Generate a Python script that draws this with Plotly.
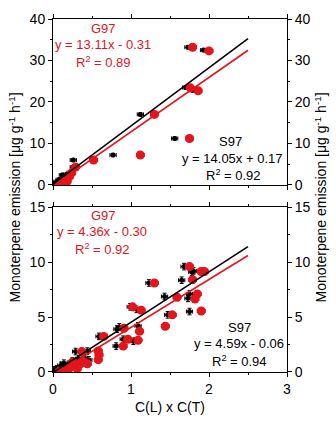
import plotly.graph_objects as go

# ---------------- data ----------------
# Top panel
top_s97_x = [1.73, 1.93, 1.70, 1.79, 1.12, 1.56, 0.77, 0.26, 0.26, 0.12, 0.18, 0.05, 0.08, 0.03, 0.15, 0.22]
top_s97_y = [33.2, 32.5, 23.5, 22.8, 17.0, 11.2, 7.2, 6.0, 4.3, 2.4, 2.6, 0.8, 1.3, 0.4, 1.8, 3.0]
top_g97_x = [1.79, 2.00, 1.76, 1.86, 1.30, 1.75, 1.12, 0.52, 0.29, 0.24, 0.18, 0.16, 0.21, 0.13, 0.10]
top_g97_y = [33.2, 32.3, 23.4, 22.7, 17.0, 11.2, 7.2, 6.0, 4.3, 2.9, 0.8, 1.3, 2.0, 0.5, 0.3]

# Bottom panel
bot_s97_x = [1.68, 1.78, 1.80, 1.23, 1.65, 1.43, 1.73, 1.75, 1.75, 0.99, 1.07, 1.47, 1.09, 0.82, 0.85,
             0.59, 0.90, 0.81, 1.03, 0.29, 0.44, 0.46, 0.05, 0.10, 0.14, 0.20, 0.25, 0.27, 0.33, 0.35,
             0.40, 0.02, 0.12, 0.30]
bot_s97_y = [9.59, 9.09, 9.20, 8.10, 8.35, 6.87, 6.70, 7.10, 5.50, 5.93, 5.70, 5.20, 4.20, 3.90, 4.10,
             3.24, 2.98, 2.36, 2.80, 1.86, 1.90, 1.10, 0.30, 0.60, 0.80, 0.70, 1.00, 0.90, 1.20, 0.70,
             1.30, 0.20, 0.40, 0.50]
bot_g97_x = [1.75, 1.94, 1.90, 1.79, 1.30, 1.59, 1.85, 1.82, 1.90, 1.02, 1.13, 1.53, 1.44, 1.11, 0.91,
             0.65, 0.96, 1.09, 0.90, 0.37, 0.58, 0.59, 0.58, 0.35, 0.39, 0.28, 0.18, 0.22, 0.44, 0.31,
             0.12, 0.08, 0.25]
bot_g97_y = [9.59, 9.14, 9.14, 8.40, 8.10, 6.80, 7.10, 6.64, 5.55, 5.93, 5.63, 5.20, 4.16, 3.70, 3.98,
             3.24, 2.98, 2.89, 2.36, 1.86, 1.92, 1.56, 1.12, 0.75, 0.95, 0.55, 0.20, 0.40, 0.75, 0.30,
             0.10, 0.05, 0.90]

# Fits: (slope, intercept)
top_s97_fit = (14.05, 0.17)
top_g97_fit = (13.11, -0.31)
bot_s97_fit = (4.59, -0.06)
bot_g97_fit = (4.36, -0.30)
fit_x = [0, 2.5]

x_ticks = [0, 1, 2, 3]
top_y_ticks = [0, 10, 20, 30, 40]
bot_y_ticks = [0, 5, 10, 15]

RED = "#e3141b"
FONT = "Liberation Sans, Arial, sans-serif"
AXFS = 14

fig = go.Figure()

def add_points(x, y, color, size, ex, ey, xa, ya):
    fig.add_trace(go.Scatter(
        x=x, y=y, mode="markers", xaxis=xa, yaxis=ya,
        marker=dict(color=color, size=size, symbol="circle", line=dict(width=0)),
        error_x=dict(type="constant", value=ex, color=color, thickness=1, width=2),
        error_y=dict(type="constant", value=ey, color=color, thickness=1, width=2),
        showlegend=False, hoverinfo="skip"))

def add_fit(fit, color, xa, ya):
    m, b = fit
    fig.add_trace(go.Scatter(
        x=fit_x, y=[m * v + b for v in fit_x], mode="lines", xaxis=xa, yaxis=ya,
        line=dict(color=color, width=1.6), showlegend=False, hoverinfo="skip"))

# Top panel (x2, y2)
add_points(top_s97_x, top_s97_y, "black", 5, 0.04, 0.4, "x2", "y2")
add_points(top_g97_x, top_g97_y, RED, 9, 0.05, 0.4, "x2", "y2")
add_fit(top_s97_fit, "black", "x2", "y2")
add_fit(top_g97_fit, RED, "x2", "y2")

# Bottom panel (x, y)
add_points(bot_s97_x, bot_s97_y, "black", 5, 0.04, 0.3, "x", "y")
add_points(bot_g97_x, bot_g97_y, RED, 9, 0.05, 0.3, "x", "y")
add_fit(bot_s97_fit, "black", "x", "y")
add_fit(bot_g97_fit, RED, "x", "y")

# invisible traces for right axes
fig.add_trace(go.Scatter(x=[0], y=[0], xaxis="x", yaxis="y3", mode="markers",
                         marker=dict(opacity=0), showlegend=False, hoverinfo="skip"))
fig.add_trace(go.Scatter(x=[0], y=[0], xaxis="x2", yaxis="y4", mode="markers",
                         marker=dict(opacity=0), showlegend=False, hoverinfo="skip"))

axis_common = dict(showline=True, linecolor="black", linewidth=1, ticks="outside",
                   ticklen=4, tickwidth=1, tickcolor="black", showgrid=False, zeroline=False,
                   tickfont=dict(family=FONT, size=AXFS, color="black"))

B_TOP = 0.467
T_BOT = 0.530

fig.update_layout(
    width=336, height=424,
    margin=dict(l=53, r=49, t=11, b=49),
    paper_bgcolor="white", plot_bgcolor="white",
    font=dict(family=FONT, size=13, color="black"),
    xaxis=dict(domain=[0, 1], anchor="y", range=[0, 3], tickvals=x_ticks, mirror="ticks",
               minor=dict(dtick=0.5, ticks="outside", ticklen=2, tickcolor="black"),
               title=dict(text="C(L) x C(T)", font=dict(family=FONT, size=AXFS), standoff=6),
               **axis_common),
    xaxis2=dict(domain=[0, 1], anchor="y2", range=[0, 3], tickvals=x_ticks, mirror="ticks",
                showticklabels=False,
                minor=dict(dtick=0.5, ticks="outside", ticklen=2, tickcolor="black"),
                **axis_common),
    yaxis=dict(domain=[0, B_TOP], anchor="x", range=[0, 15], tickvals=bot_y_ticks,
               minor=dict(dtick=2.5, ticks="outside", ticklen=2, tickcolor="black"),
               **axis_common),
    yaxis2=dict(domain=[T_BOT, 1], anchor="x2", range=[0, 40], tickvals=top_y_ticks,
                minor=dict(dtick=5, ticks="outside", ticklen=2, tickcolor="black"),
                **axis_common),
    yaxis3=dict(overlaying="y", side="right", anchor="x", range=[0, 15], tickvals=bot_y_ticks,
                minor=dict(dtick=2.5, ticks="outside", ticklen=2, tickcolor="black"),
                **axis_common),
    yaxis4=dict(overlaying="y2", side="right", anchor="x2", range=[0, 40], tickvals=top_y_ticks,
                minor=dict(dtick=5, ticks="outside", ticklen=2, tickcolor="black"),
                **axis_common),
)

def px_to_paper(px, py):
    return (px - 53) / 234.0, (375 - py) / 364.0

def note(px, py, text, color, size=13):
    x, y = px_to_paper(px, py)
    fig.add_annotation(x=x, y=y, xref="paper", yref="paper", text=text, showarrow=False,
                       xanchor="center", yanchor="middle",
                       font=dict(family=FONT, size=size, color=color))

note(103, 21, "G97", RED)
note(103, 37, "y = 13.11x - 0.31", RED)
note(103, 55, "R<sup>2</sup> = 0.89", RED)
note(230, 137, "S97", "black")
note(232, 155, "y = 14.05x + 0.17", "black")
note(233, 172, "R<sup>2</sup> = 0.92", "black")

note(103, 214, "G97", RED)
note(102, 230, "y = 4.36x - 0.30", RED)
note(102, 248, "R<sup>2</sup> = 0.92", RED)
note(239, 329, "S97", "black")
note(239, 346, "y = 4.59x - 0.06", "black")
note(239, 364, "R<sup>2</sup> = 0.94", "black")

ytitle = "Monoterpene emission [μg g<sup>-1</sup> h<sup>-1</sup>]"
for px in (15, 321):
    x, y = px_to_paper(px, 195)
    fig.add_annotation(x=x, y=y, xref="paper", yref="paper", text=ytitle, showarrow=False,
                       textangle=-90, xanchor="center", yanchor="middle",
                       font=dict(family=FONT, size=AXFS, color="black"))

fig.write_html("out.html")
